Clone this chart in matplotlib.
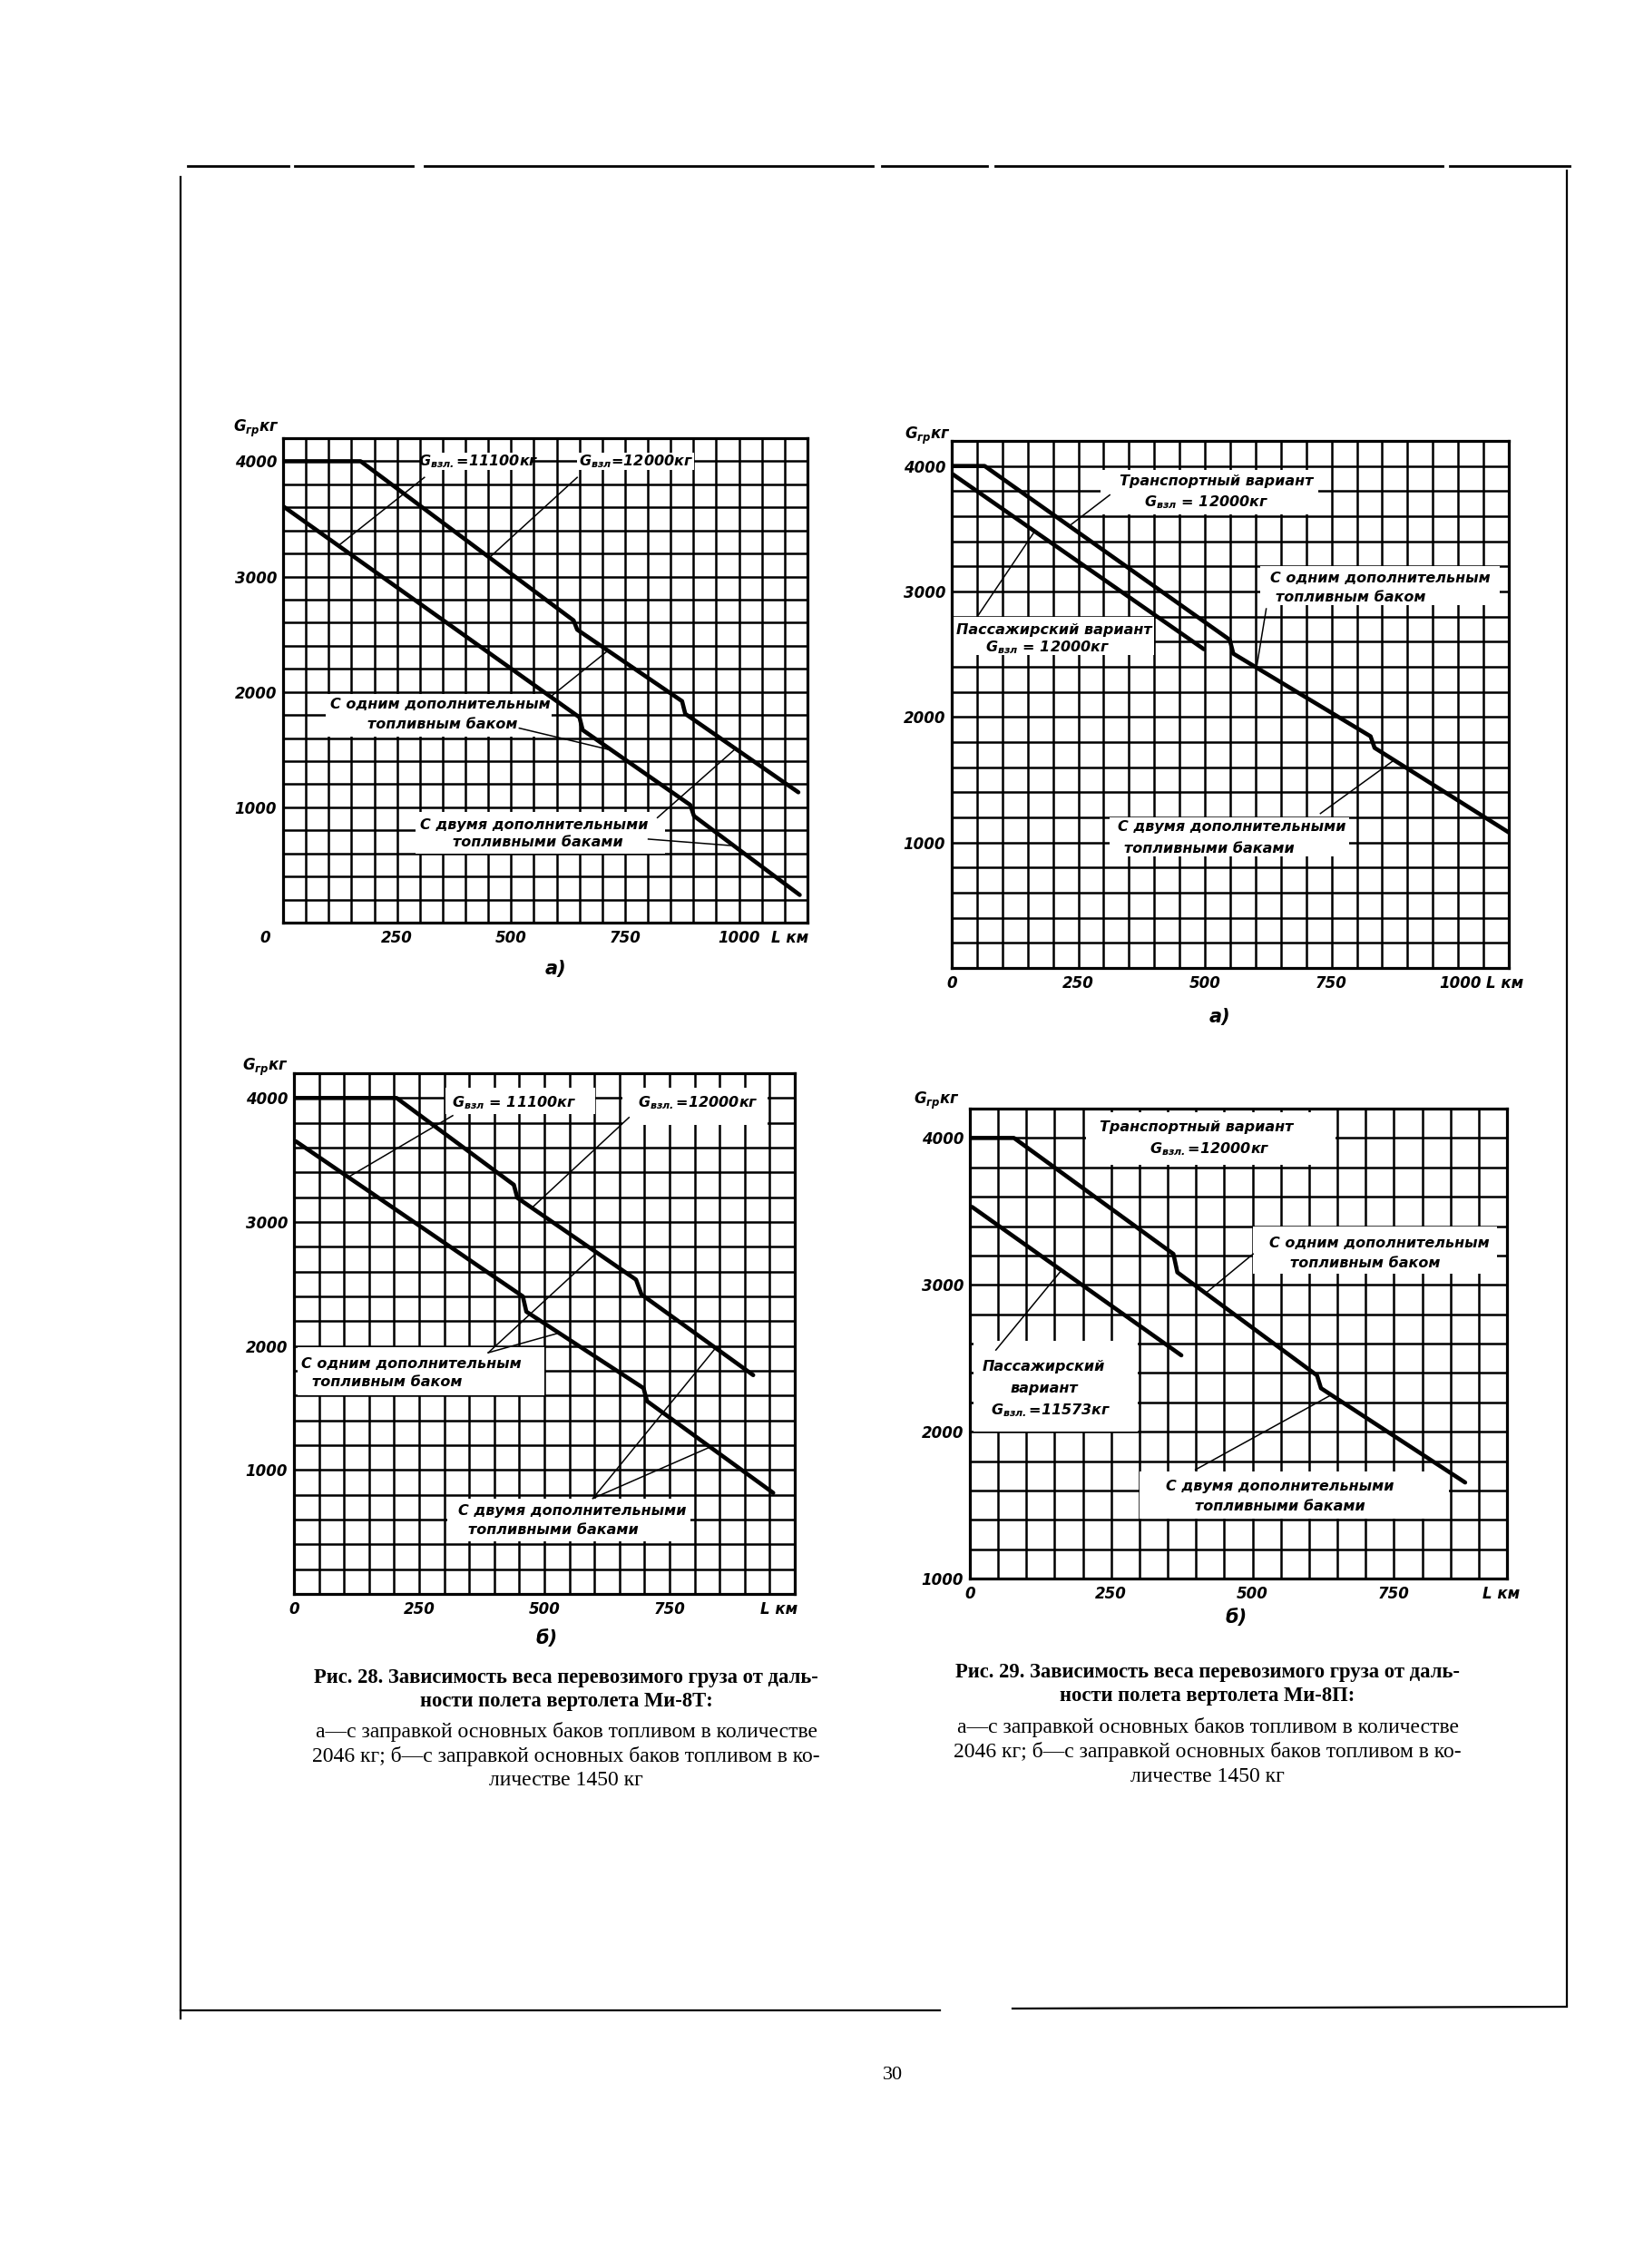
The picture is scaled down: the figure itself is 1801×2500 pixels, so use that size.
import matplotlib
matplotlib.use("Agg")
import matplotlib.pyplot as plt
from matplotlib.patches import Rectangle
from matplotlib.lines import Line2D
import numpy as np

plt.rcParams['font.family'] = ['DejaVu Sans']
plt.rcParams['mathtext.fontset'] = 'custom'
plt.rcParams['mathtext.it'] = 'DejaVu Sans:italic:bold'
plt.rcParams['mathtext.rm'] = 'DejaVu Sans:italic:bold'
plt.rcParams['mathtext.bf'] = 'DejaVu Sans:italic:bold'

# ---------------- data (L, km ; G, kg) ----------------
# Fig. 28 a) Mi-8T, fuel 2046 kg
c1_L_12000 = [0, 170, 637, 645, 875, 882, 1130]
c1_G_12000 = [4000, 4000, 2620, 2540, 1920, 1810, 1130]
c1_L_11100 = [0, 650, 657, 893, 901, 1133]
c1_G_11100 = [3610, 1780, 1670, 1020, 925, 240]
# Fig. 29 a) Mi-8P, fuel 2046 kg
c2_L_trans = [0, 65, 549, 556, 827, 835, 1100]
c2_G_trans = [4000, 4000, 2615, 2505, 1846, 1754, 1080]
c2_L_pass = [0, 498]
c2_G_pass = [3940, 2540]
# Fig. 28 b) Mi-8T, fuel 1450 kg
c3_L_12000 = [0, 205, 439, 446, 683, 694, 917]
c3_G_12000 = [4000, 4000, 3300, 3195, 2535, 2415, 1765]
c3_L_11100 = [4, 457, 464, 698, 705, 957]
c3_G_11100 = [3650, 2400, 2277, 1660, 1555, 815]
# Fig. 29 b) Mi-8P, fuel 1450 kg
c4_L_trans = [0, 78, 360, 367, 614, 621, 876]
c4_G_trans = [4000, 4000, 3210, 3085, 2383, 2296, 1654]
c4_L_pass = [4, 374]
c4_G_pass = [3530, 2520]

x_labels_1000 = ['0', '250', '500', '750', '1000']
x_labels_750 = ['0', '250', '500', '750']
y_labels = ['1000', '2000', '3000', '4000']
axis_x_name = 'L км'
axis_y_name = '$G_{гр}$кг'

caption28 = ["Рис. 28. Зависимость веса перевозимого груза от даль-",
             "ности полета вертолета Ми-8Т:"]
caption29 = ["Рис. 29. Зависимость веса перевозимого груза от даль-",
             "ности полета вертолета Ми-8П:"]
caption_body = ["а—с заправкой основных баков топливом в количестве",
                "2046 кг; б—с заправкой основных баков топливом в ко-",
                "личестве 1450 кг"]
page_number = "30"

# ---------------- layout ----------------
W, H = 1801, 2500
fig = plt.figure(figsize=(W / 100, H / 100), dpi=100)
fig.patch.set_facecolor('white')

LBL = dict(fontsize=12, fontweight='bold', fontstyle='italic', family='DejaVu Sans')
ANN = dict(fontsize=11.5, fontweight='bold', fontstyle='italic', family='DejaVu Sans')


def fx(x):
    return x / W


def fy(y):
    return 1 - y / H


def ftext(x, y, s, **kw):
    fig.text(fx(x), fy(y), s, **kw)


def chart(rect, xmax, ymin, ymax, xticks, xlabels, series, boxes, texts, leaders,
          sub, sub_xy, ylab_xy, hide_zero=False):
    l, t, r, b = rect
    ax = fig.add_axes([fx(l), fy(b), (r - l) / W, (b - t) / H])
    ax.set_xlim(0, xmax)
    ax.set_ylim(ymin, ymax)
    for x in np.arange(50, xmax, 50):
        ax.axvline(x, color='k', lw=1.8, zorder=1)
    for y in np.arange(ymin + 200, ymax, 200):
        ax.axhline(y, color='k', lw=1.8, zorder=1)
    for s in ax.spines.values():
        s.set_linewidth(2.3)
        s.set_zorder(6)
    ax.set_xticks(xticks, xlabels, **LBL)
    yt = [v for v in [1000, 2000, 3000, 4000] if v >= ymin]
    ax.set_yticks(yt, [y_labels[[1000, 2000, 3000, 4000].index(v)] for v in yt], **LBL)
    ax.tick_params(axis='x', length=0, pad=6)
    ax.tick_params(axis='y', length=0, pad=5)
    for (x0, x1, y0, y1) in boxes:
        ax.add_patch(Rectangle((x0, y0), x1 - x0, y1 - y0, facecolor='white',
                               edgecolor='none', zorder=2))
    for (L, G) in series:
        ax.plot(L, G, color='k', lw=3.3, zorder=3, solid_joinstyle='round',
                solid_capstyle='round')
    for (x0, y0, x1, y1) in leaders:
        ax.plot([x0, x1], [y0, y1], color='k', lw=1.1, zorder=4)
    for (s, x, y) in texts:
        ax.text(x, y, s, ha='center', va='center', zorder=5, **ANN)
    if hide_zero:
        ax.annotate('0', xy=(0, 0), xycoords='axes fraction', xytext=(-14, -6),
                    textcoords='offset points', ha='center', va='top', **LBL)
    ftext(ylab_xy[0], ylab_xy[1], axis_y_name, ha='right', va='center', **LBL)
    ftext(sub_xy[0], sub_xy[1], sub, ha='center', va='center', fontsize=15,
          fontstyle='italic', fontweight='bold', family='DejaVu Sans')
    return ax


# Chart 1: Fig 28 a
chart((312, 483, 890, 1017), 1150, 0, 4200,
      [0, 250, 500, 750, 1000, 1112], [''] + x_labels_1000[1:] + [axis_x_name],
      [(c1_L_12000, c1_G_12000), (c1_L_11100, c1_G_11100)],
      [(306, 546, 3922, 4078), (645, 901, 3922, 4078),
       (94, 589, 1609, 1981), (290, 837, 599, 957)],
      [('$G_{взл.}$=11100кг', 428, 4000), ('$G_{взл}$=12000кг', 775, 4000),
       ('С одним дополнительным', 345, 1888), ('топливным баком', 350, 1717),
       ('С двумя дополнительными', 551, 848), ('топливными баками', 559, 693)],
      [(310, 3860, 122, 3270), (645, 3860, 454, 3170),
       (589, 1966, 713, 2360), (518, 1686, 721, 1494),
       (821, 910, 990, 1500), (801, 724, 989, 666)],
      'а)', (612, 1068), (308, 472), hide_zero=True)

# Chart 2: Fig 29 a
chart((1049, 486, 1663, 1067), 1100, 0, 4200,
      [0, 250, 500, 750, 1005, 1092], x_labels_1000 + [axis_x_name],
      [(c2_L_trans, c2_G_trans), (c2_L_pass, c2_G_pass)],
      [(293, 724, 3615, 3969), (4, 400, 2492, 2800),
       (610, 1082, 2892, 3200), (312, 785, 892, 1200)],
      [('Транспортный вариант', 522, 3877), ('$G_{взл}$ = 12000кг', 503, 3708),
       ('Пассажирский вариант', 203, 2692), ('$G_{взл}$ = 12000кг', 189, 2554),
       ('С одним дополнительным', 846, 3108), ('топливным баком', 787, 2954),
       ('С двумя дополнительными', 553, 1123), ('топливными баками', 508, 954)],
      [(312, 3769, 232, 3522), (53, 2815, 164, 3481),
       (621, 2862, 602, 2396), (728, 1231, 873, 1655)],
      'а)', (1344, 1121), (1048, 480))

# Chart 3: Fig 28 b
chart((324, 1183, 876, 1757), 1000, 0, 4200,
      [0, 250, 500, 750, 968], x_labels_750 + [axis_x_name],
      [(c3_L_12000, c3_G_12000), (c3_L_11100, c3_G_11100)],
      [(302, 601, 3873, 4084), (655, 946, 3783, 4084),
       (7, 500, 1599, 1991), (306, 791, 425, 771)],
      [('$G_{взл}$ = 11100кг', 439, 3964), ('$G_{взл.}$=12000кг', 806, 3964),
       ('С одним дополнительным', 234, 1855), ('топливным баком', 187, 1705),
       ('С двумя дополнительными', 555, 666), ('топливными баками', 518, 515)],
      [(317, 3858, 108, 3361), (669, 3843, 475, 3114),
       (388, 1946, 604, 2750), (388, 1946, 529, 2105),
       (597, 771, 842, 1984), (597, 771, 831, 1185)],
      'б)', (603, 1806), (318, 1176))

# Chart 4: Fig 29 b
chart((1069, 1222, 1661, 1740), 950, 1000, 4200,
      [0, 250, 500, 750, 940], x_labels_750 + [axis_x_name],
      [(c4_L_trans, c4_G_trans), (c4_L_pass, c4_G_pass)],
      [(205, 646, 3815, 4173), (501, 932, 3074, 3395),
       (7, 297, 2000, 2617), (300, 847, 1407, 1728)],
      [('Транспортный вариант', 400, 4074), ('$G_{взл.}$=12000кг', 424, 3926),
       ('С одним дополнительным', 725, 3284), ('топливным баком', 700, 3148),
       ('Пассажирский', 131, 2444), ('вариант', 131, 2296), ('$G_{взл.}$=11573кг', 143, 2148),
       ('С двумя дополнительными', 549, 1630), ('топливными баками', 549, 1494)],
      [(501, 3210, 417, 2943), (46, 2556, 162, 3099), (399, 1741, 639, 2250)],
      'б)', (1363, 1783), (1058, 1213))

# ---------------- captions ----------------
SER = dict(family='Liberation Serif')
for cap, cx, y0 in ((caption28, 624, 1849), (caption29, 1331, 1844)):
    ftext(cx, y0, cap[0], ha='center', va='center', fontsize=16.3, fontweight='bold', **SER)
    ftext(cx, y0 + 26, cap[1], ha='center', va='center', fontsize=16.3, fontweight='bold', **SER)
    for i, line in enumerate(caption_body):
        ftext(cx, y0 + 60 + 27 * i, line, ha='center', va='center', fontsize=17, **SER)

ftext(984, 2288, page_number, ha='center', va='center', fontsize=16, **SER)

# ---------------- page frame ----------------
def fline(x0, y0, x1, y1, lw=1.6):
    fig.add_artist(Line2D([fx(x0), fx(x1)], [fy(y0), fy(y1)], transform=fig.transFigure,
                          color='k', lw=lw))

for (a, b) in [(207, 318), (325, 455), (468, 962), (972, 1088), (1097, 1590), (1598, 1730)]:
    fline(a, 183, b, 183, lw=2.0)
fline(199, 195, 199, 2225)
fline(1727, 188, 1727, 2210)
fline(199, 2216, 1036, 2216)
fline(1116, 2214, 1727, 2212)

fig.savefig('out.png', dpi=100, facecolor='white')
